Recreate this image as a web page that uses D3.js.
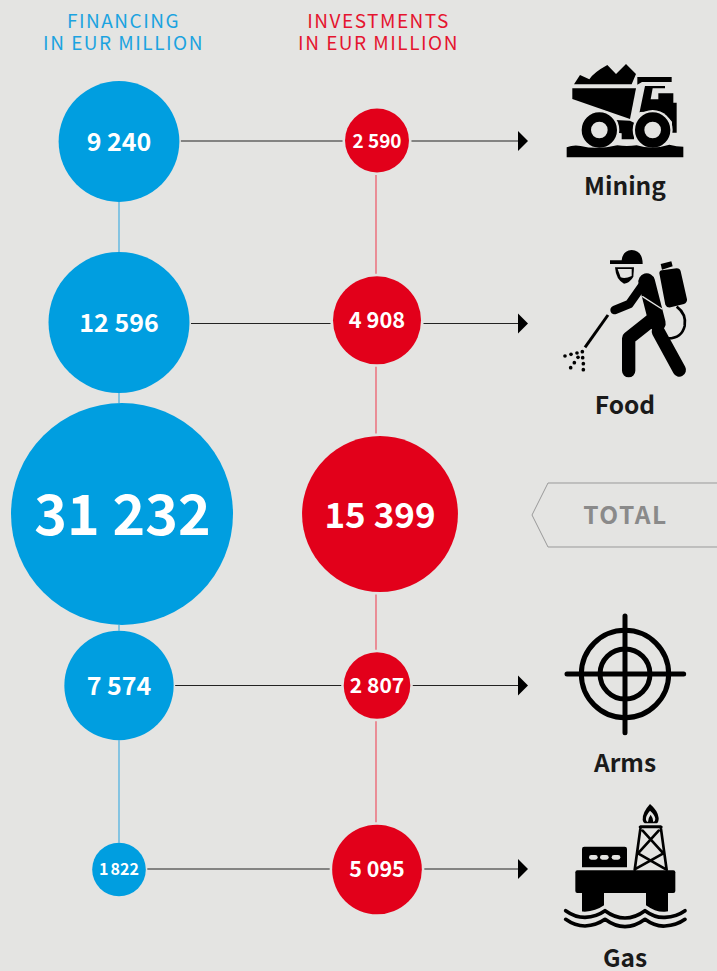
<!DOCTYPE html>
<html><head><meta charset="utf-8">
<script src="https://cdn.jsdelivr.net/npm/d3@7"></script>
<style>html,body{margin:0;padding:0;background:#e4e4e2;overflow:hidden}svg{display:block}text{font-family:"Noto Sans CJK SC","Noto Sans",sans-serif}</style>
</head><body><svg id="c" width="717" height="971"></svg>
<script>
const categories=["Mining","Food","TOTAL","Arms","Gas"];
const financing=[9240,12596,31232,7574,1822];
const investments=[2590,4908,15399,2807,5095];
const financingLabels=["9 240","12 596","31 232","7 574","1 822"];
const investmentLabels=["2 590","4 908","15 399","2 807","5 095"];
const financingFont=[25,25,55.5,25,16];
const investmentFont=[19,21.8,35,21,21.5];
const BG="#e4e4e2",BLUE="#009ee0",RED="#e2001a";
const svg=d3.select("#c");
svg.append("rect").attr("width",717).attr("height",971).attr("fill",BG);
const r=d3.scaleSqrt().domain([0,31232]).range([0,111]);
const yF=d3.scaleOrdinal(categories,[141.5,322.5,514,685.5,869.5]);
const yI=d3.scaleOrdinal(categories,[140.5,320.3,514,685.5,869.5]);
const yL=d3.scaleOrdinal(categories,[141,323.5,514,685.5,869]);
const xF=d3.scaleOrdinal(categories,[119,119,122,119,119]);
const xI=d3.scaleOrdinal(categories,[377,377,380,377,377]);
const rows=categories.map((c,i)=>({c,i,f:financing[i],v:investments[i]}));

[["FINANCING",123.5,28,"#1ba3e0"],["IN EUR MILLION",123.5,50,"#1ba3e0"],["INVESTMENTS",378.5,28,"#e5142f"],["IN EUR MILLION",378.5,50,"#e5142f"]].forEach(h=>{
 svg.append("text").attr("x",h[1]).attr("y",h[2]).attr("text-anchor","middle").attr("font-size",19).attr("letter-spacing",1.5).attr("fill",h[3]).text(h[0]);
});

d3.pairs(rows).forEach(([a,b])=>{
 svg.append("line").attr("x1",119).attr("x2",119).attr("y1",yF(a.c)+r(a.f)).attr("y2",yF(b.c)-r(b.f)).attr("stroke","#5cb7e2").attr("stroke-width",1.4);
 svg.append("line").attr("x1",376).attr("x2",376).attr("y1",yI(a.c)+r(a.v)+2.5).attr("y2",yI(b.c)-r(b.v)-2.5).attr("stroke","#ec5f6e").attr("stroke-width",1.3);
});

rows.filter(d=>d.c!=="TOTAL").forEach(d=>{
 const yy=yL(d.c);
 svg.append("line").attr("x1",xF(d.c)+r(d.f)+1.5).attr("x2",xI(d.c)-r(d.v)-2.5).attr("y1",yy).attr("y2",yy).attr("stroke","#222").attr("stroke-width",1.2);
 svg.append("line").attr("x1",xI(d.c)+r(d.v)+2.5).attr("x2",520).attr("y1",yy).attr("y2",yy).attr("stroke","#222").attr("stroke-width",1.2);
 svg.append("path").attr("d",`M518 ${yy-10}L528 ${yy}L518 ${yy+10}Z`).attr("fill","#000");
});

svg.append("g").selectAll("circle").data(rows).join("circle").attr("cx",d=>xF(d.c)).attr("cy",d=>yF(d.c)).attr("r",d=>r(d.f)).attr("fill",BLUE);
svg.append("g").selectAll("circle").data(rows).join("circle").attr("cx",d=>xI(d.c)).attr("cy",d=>yI(d.c)).attr("r",d=>r(d.v)).attr("fill",RED);
rows.forEach(d=>{
 const fs=financingFont[d.i],is=investmentFont[d.i];
 const dyF=d.c==="TOTAL"?1:0, dyI=(d.c==="Mining"||d.c==="TOTAL")?1:0;
 svg.append("text").attr("x",xF(d.c)+(d.c==="TOTAL"?0.5:0)).attr("y",yF(d.c)+fs*0.36+dyF).attr("text-anchor","middle").attr("font-size",fs).attr("font-weight",700).attr("word-spacing",d.c==="Gas"?-1.5:0).attr("fill","#fff").text(financingLabels[d.i]);
 svg.append("text").attr("x",xI(d.c)).attr("y",yI(d.c)+is*0.36+dyI).attr("text-anchor","middle").attr("font-size",is).attr("font-weight",700).attr("fill","#fff").text(investmentLabels[d.i]);
});

svg.append("path").attr("d","M717 483H548L532 515L548 547H717").attr("fill","none").attr("stroke","#999").attr("stroke-width",1);
svg.append("text").attr("x",625.5).attr("y",524).attr("text-anchor","middle").attr("font-size",24.5).attr("font-weight",700).attr("letter-spacing",1.6).attr("fill","#8a8a8a").text("TOTAL");

[["Mining",625,195],["Food",625,414],["Arms",625,772],["Gas",625,967]].forEach(l=>{
 svg.append("text").attr("x",l[1]).attr("y",l[2]).attr("text-anchor","middle").attr("font-size",24.5).attr("font-weight",700).attr("fill","#1a1a1a").text(l[0]);
});

function icon(x,yy){return svg.append("g").attr("transform",`translate(${x},${yy}) scale(${1/3})`);}
const P=(g,d,fill)=>g.append("path").attr("d",d).attr("fill",fill);
const L=(g,d,w,col="#000")=>g.append("path").attr("d",d).attr("fill","none").attr("stroke",col).attr("stroke-width",w).attr("stroke-linecap","round").attr("stroke-linejoin","round");

{const g=icon(530,50);
 P(g,"M132 103L150 75L178 88Q190 68 232 45L258 72L288 42L318 72L305 103Z","#000");
 P(g,"M127 115H318L300 207L127 147Z","#000");
 P(g,"M322 81H425V96H336L322 104Z","#000");
 P(g,"M328 190L345 108H405V115H368L362 148H385V130H430V158H440V248H426V215Q400 180 328 186Z","#000");
 P(g,"M372 115L366 145H382V132H372Z",BG);
 P(g,"M255 210L300 212L312 218V268H275V250L262 248Z","#000");
 [208,368].forEach(cx=>{
  g.append("circle").attr("cx",cx).attr("cy",240).attr("r",60).attr("fill",BG);
  g.append("circle").attr("cx",cx).attr("cy",240).attr("r",39).attr("fill",BG).attr("stroke","#000").attr("stroke-width",28);
 });
 P(g,"M110 322V292Q130 284 152 288Q200 300 262 286Q290 290 320 286Q368 300 418 284Q440 290 460 290V322Z","#000");
}
{const g=icon(530,240);
 P(g,"M240 61H275Q278 32 305 30Q338 32 338 72H240Z","#000");
 P(g,"M255 82H312L310 110Q300 128 282 131Q258 120 255 82Z","#000");
 P(g,"M263 87H305V108Q285 118 272 112Z",BG);
 L(g,"M254 210L298 192L345 125",26);
 L(g,"M350 125L382 250",50);
 L(g,"M365 240L296 295V392",40);
 L(g,"M385 275L448 390",40);
 L(g,"M234 225L165 322",9).attr("stroke-linecap","butt");
 P(g,"M388 100Q388 92 396 91L440 85Q450 85 452 94L471 178Q472 188 462 192L422 202Q410 204 406 194Z","#000");
 P(g,"M392 72L424 64L428 79L396 89Z","#000");
 L(g,"M440 200Q470 222 464 258Q455 295 415 295",8).attr("stroke-linecap","butt");
 L(g,"M338 170L396 207",4,BG);
 [[105,348],[123,343],[141,339],[157,335],[144,352],[158,353],[133,368],[160,371],[122,383],[160,389]].forEach(p=>g.append("circle").attr("cx",p[0]).attr("cy",p[1]).attr("r",5.5).attr("fill","#000"));
}
{const g=icon(530,600);
 [131,75].forEach(rr=>g.append("circle").attr("cx",285).attr("cy",222).attr("r",rr).attr("fill","none").attr("stroke","#000").attr("stroke-width",15));
 L(g,"M111 222H461M285 48V398",15);
}
{const g=icon(530,790);
 P(g,"M142 241H430Q436 241 436 247V303Q436 309 430 309H142Q136 309 136 303V247Q136 241 142 241Z","#000");
 P(g,"M156 305H222V372H156ZM348 305H414V380H348Z","#000");
 P(g,"M163 170H284Q291 170 291 177V232H156V177Q156 170 163 170Z","#000");
 [190,223,258].forEach(p=>g.append("rect").attr("x",p-13).attr("y",195).attr("width",26).attr("height",14).attr("rx",7).attr("fill",BG));
 L(g,"M332 110H392L410 240M332 110L314 240M330 111H394M338 122L400 190L318 236M386 122L324 190L404 236",8);
 P(g,"M360 42Q336 68 338 90Q340 100 344 100H380Q386 98 386 84Q384 62 360 42Z","#000");
 P(g,"M360 62Q346 78 348 90Q350 96 354 96Q354 84 362 74Q370 84 370 96Q376 94 376 86Q374 74 360 62Z",BG);
 const w0="M107 362Q135 382 165 382Q200 380 225 362Q255 384 285 384Q315 384 345 362Q375 384 405 382Q440 380 465 362";
 L(g,w0,14,BG).attr("transform","translate(0,-10)");
 L(g,w0,14,BG).attr("transform","translate(0,13)");
 L(g,w0,11);
 L(g,w0,11).attr("transform","translate(0,26)");
}
</script></body></html>
